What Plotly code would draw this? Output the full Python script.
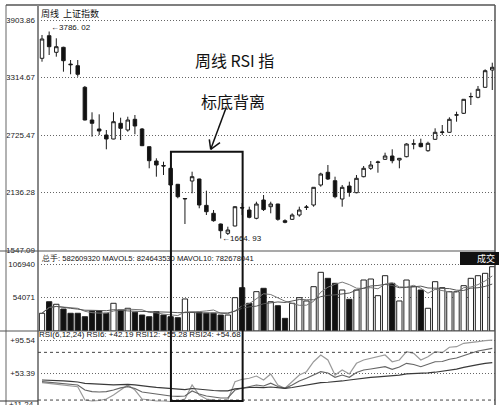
import plotly.graph_objects as go
import pandas as pd

weeks = list(range(64))
opens = [3511.4, 3743.0, 3572.9, 3624.1, 3452.0, 3435.6, 3214.2, 2879.2, 2787.0, 2725.5,
         2684.5, 2845.3, 2776.7, 2886.3, 2787.0, 2605.6, 2459.0, 2412.9, 2384.2, 2220.3,
         2069.6, 2254.1, 2274.6, 2004.6, 1923.1, 1813.5, 1718.1, 1793.0, 1982.6, 1956.9,
         1871.9, 2059.4, 1990.7, 2018.4, 1847.3, 1861.6, 1905.7, 1982.6, 2008.2, 2213.1,
         2343.2, 2257.2, 2069.6, 2202.9, 2134.2, 2298.2, 2384.2, 2443.7, 2476.4, 2510.3,
         2469.3, 2503.1, 2631.2, 2640.4, 2564.5, 2681.4, 2751.1, 2753.1, 2928.3, 2947.8,
         3116.9, 3111.8, 3214.2, 3391.5]
highs = [3750.2, 3786.02, 3716.3, 3630.0, 3494.0, 3494.0, 3227.6, 2958.0, 2937.6, 2776.7,
         2958.0, 2902.7, 2912.9, 2930.4, 2797.2, 2608.0, 2486.7, 2451.9, 2388.0, 2224.0,
         2078.0, 2349.4, 2278.0, 2154.7, 1956.9, 1818.0, 1785.8, 1994.0, 2028.6, 1990.7,
         2041.9, 2110.6, 2041.9, 2020.0, 1861.6, 1923.1, 1990.7, 2008.2, 2192.0, 2339.1,
         2418.0, 2298.2, 2213.1, 2246.9, 2315.6, 2407.8, 2459.0, 2462.1, 2544.1, 2578.9,
         2490.0, 2640.4, 2681.4, 2687.5, 2656.8, 2794.1, 2827.9, 2906.8, 2964.2, 3094.0,
         3158.9, 3227.6, 3398.7, 3466.3]
lows = [3476.6, 3545.2, 3527.8, 3374.1, 3347.5, 3322.8, 2875.0, 2708.0, 2725.5, 2578.9,
        2682.0, 2674.2, 2759.3, 2732.6, 2612.0, 2384.2, 2298.2, 2315.6, 2208.0, 2076.9,
        1813.5, 2128.1, 1974.4, 1905.7, 1837.1, 1664.93, 1700.8, 1790.0, 1905.7, 1871.9,
        1861.6, 1946.7, 1923.1, 1847.3, 1820.7, 1854.5, 1888.3, 1956.9, 1990.7, 2195.7,
        2264.3, 2076.9, 1990.7, 2093.2, 2128.1, 2291.9, 2366.8, 2339.1, 2469.3, 2435.4,
        2384.2, 2496.9, 2578.9, 2599.4, 2554.3, 2674.2, 2725.5, 2750.0, 2861.7, 2940.6,
        3032.9, 3101.5, 3211.0, 3186.6]
closes = [3709.2, 3630.3, 3630.3, 3486.8, 3446.0, 3347.5, 2879.2, 2845.3, 2766.4, 2684.5,
          2861.7, 2794.1, 2879.2, 2817.7, 2615.8, 2462.1, 2418.0, 2407.8, 2213.1, 2093.2,
          2074.8, 2298.2, 2008.2, 1939.5, 1847.3, 1744.8, 1752.0, 1990.7, 1977.4, 1882.1,
          2018.4, 1961.5, 2018.4, 1861.6, 1830.9, 1905.7, 1956.9, 1987.7, 2189.5, 2325.8,
          2274.6, 2093.2, 2189.5, 2138.3, 2281.7, 2384.2, 2418.0, 2448.8, 2510.3, 2462.1,
          2486.7, 2633.2, 2635.3, 2605.6, 2640.4, 2753.1, 2756.2, 2886.3, 2932.4, 3091.3,
          3119.9, 3193.8, 3384.3, 3419.2]
volumes = [28400, 46900, 42800, 35200, 28400, 28400, 22900, 32000, 32000, 28400,
           44400, 33600, 36400, 30000, 25600, 22900, 30900, 25600, 22900, 21300,
           51300, 30000, 30000, 28400, 28400, 25600, 25600, 53400, 69400, 44400,
           63000, 68400, 46900, 40500, 20300, 44400, 53400, 48100, 71000, 94000,
           84400, 76400, 65700, 50800, 65700, 81700, 83300, 56600, 88600, 76400,
           48100, 81700, 71000, 65700, 36400, 79000, 69400, 63000, 63000, 72600,
           84400, 88600, 92400, 103000]
rsi6 = [41.8, 40.8, 40.2, 38.9, 37.7, 36.8, 20.1, 18.8, 19.4, 21.3,
        26.3, 32.6, 38.9, 32.6, 21.3, 20.1, 18.8, 18.8, 18.2, 18.8,
        21.3, 38.9, 26.3, 21.3, 20.1, 18.8, 20.1, 43.1, 46.1, 47.4,
        50.2, 45.2, 52.8, 38.9, 34.8, 43.1, 51.5, 55.7, 68.2, 76.7,
        70.4, 51.5, 57.8, 52.8, 66.2, 70.4, 72.5, 74.5, 76.7, 68.2,
        70.4, 80.8, 78.8, 70.4, 74.5, 80.8, 79.6, 86.4, 87.1, 91.4,
        92.1, 93.4, 94.7, 95.5]
rsi12 = [43.1, 42.1, 41.4, 40.2, 39.6, 38.9, 32.6, 30.7, 30.1, 30.7,
         32.6, 35.2, 36.8, 34.5, 30.1, 28.9, 27.0, 25.7, 25.1, 24.5,
         25.1, 31.4, 27.6, 25.1, 23.8, 22.6, 22.6, 32.6, 34.8, 36.4,
         38.9, 37.7, 41.1, 37.0, 34.8, 38.9, 43.9, 47.4, 51.5, 55.7,
         54.0, 48.6, 51.5, 48.6, 54.7, 57.8, 59.1, 60.3, 61.9, 58.7,
         61.6, 66.2, 64.7, 61.9, 65.3, 68.2, 68.5, 71.3, 72.9, 75.4,
         78.8, 81.7, 83.8, 85.1]
rsi24 = [45.2, 45.0, 44.6, 44.0, 43.4, 42.7, 41.0, 40.5, 40.2, 39.8,
         39.2, 39.5, 39.8, 39.0, 37.6, 36.8, 35.9, 35.0, 34.2, 33.5,
         33.2, 34.5, 33.4, 32.6, 32.0, 31.5, 31.6, 34.0, 35.2, 35.8,
         36.0, 35.6, 36.4, 35.2, 34.8, 35.8, 37.4, 39.0, 40.6, 42.0,
         42.4, 42.8, 44.0, 45.2, 46.4, 48.0, 48.6, 49.2, 50.0, 50.2,
         51.4, 53.0, 53.2, 53.4, 54.2, 55.0, 56.0, 57.6, 58.8, 61.0,
         62.4, 64.6, 66.2, 67.0]
price_ticks = [1547.09, 2136.28, 2725.47, 3314.67, 3903.86]
vol_ticks = [54071, 106940]
rsi_ticks = [53.39, 95.54]
rsi_bottom_tick = 11.24
rsi_levels = [20, 80]

W, H = 500, 405
ML, MR = 38, 5
PW = W - ML - MR


def px_x(p):
    return (p - ML) / PW


def px_y(p):
    return 1 - p / H


vol_s = pd.Series(volumes)
mavol5 = vol_s.rolling(5, min_periods=1).mean().tolist()
mavol10 = vol_s.rolling(10, min_periods=1).mean().tolist()
vol_colors = ['white' if c > o else '#111111' for o, c in zip(opens, closes)]

FONT = 'Liberation Sans, Arial, sans-serif'
CJK = 'Noto Sans CJK SC, sans-serif'

fig = go.Figure()
fig.add_trace(go.Candlestick(
    x=weeks, open=opens, high=highs, low=lows, close=closes,
    xaxis='x', yaxis='y', showlegend=False, hoverinfo='skip',
    increasing=dict(line=dict(color='#1a1a1a', width=1), fillcolor='white'),
    decreasing=dict(line=dict(color='#1a1a1a', width=1), fillcolor='#111111'),
))
fig.add_trace(go.Bar(
    x=weeks, y=volumes, xaxis='x2', yaxis='y2', width=0.74, showlegend=False,
    marker=dict(color=vol_colors, line=dict(color='#222222', width=1)),
))
fig.add_trace(go.Scatter(x=weeks, y=mavol5, xaxis='x2', yaxis='y2', mode='lines',
                         line=dict(color='#777777', width=1), showlegend=False))
fig.add_trace(go.Scatter(x=weeks, y=mavol10, xaxis='x2', yaxis='y2', mode='lines',
                         line=dict(color='#555555', width=1), showlegend=False))
fig.add_trace(go.Scatter(x=weeks, y=rsi6, xaxis='x3', yaxis='y3', mode='lines',
                         line=dict(color='#9a9a9a', width=1.2), showlegend=False))
fig.add_trace(go.Scatter(x=weeks, y=rsi12, xaxis='x3', yaxis='y3', mode='lines',
                         line=dict(color='#666666', width=1.2), showlegend=False))
fig.add_trace(go.Scatter(x=weeks, y=rsi24, xaxis='x3', yaxis='y3', mode='lines',
                         line=dict(color='#3a3a3a', width=1.2), showlegend=False))

xcommon = dict(range=[-0.56, 63.38], showgrid=False, zeroline=False, automargin=False,
               showticklabels=False, ticks='', showline=False, fixedrange=True)
ycommon = dict(showgrid=True, gridcolor='#666666', griddash='1px,2px', gridwidth=1,
               zeroline=False, showline=False, ticks='', automargin=False,
               ticklabelstandoff=2, fixedrange=True,
               tickfont=dict(family=FONT, size=8, color='#222222'))

fig.update_layout(
    width=W, height=H,
    margin=dict(l=ML, r=MR, t=0, b=0, pad=0, autoexpand=False),
    paper_bgcolor='white', plot_bgcolor='white',
    bargap=0, showlegend=False,
    xaxis=dict(domain=[0, 1], anchor='y', rangeslider=dict(visible=False), **xcommon),
    xaxis2=dict(domain=[0, 1], anchor='y2', matches='x', **xcommon),
    xaxis3=dict(domain=[0, 1], anchor='y3', matches='x', **xcommon),
    yaxis=dict(domain=[px_y(251), px_y(6)], range=[1536.8, 4047.3],
               tickvals=price_ticks, ticktext=['%.2f' % v for v in price_ticks],
               anchor='x', **ycommon),
    yaxis2=dict(domain=[px_y(331), px_y(252)], range=[0, 126560],
                tickvals=vol_ticks, ticktext=[str(v) for v in vol_ticks],
                anchor='x2', **ycommon),
    yaxis3=dict(domain=[0, px_y(332)], range=[13.77, 105.6],
                tickvals=rsi_ticks, ticktext=['+%.2f' % v for v in rsi_ticks],
                anchor='x3', **ycommon),
)

shapes = []
line_col = '#555555'
# outer frame
shapes.append(dict(type='line', xref='paper', yref='paper', x0=px_x(6), x1=px_x(6),
                   y0=px_y(5), y1=px_y(405), line=dict(color='#999999', width=1.5)))
shapes.append(dict(type='line', xref='paper', yref='paper', x0=px_x(6), x1=px_x(495),
                   y0=px_y(5), y1=px_y(5), line=dict(color=line_col, width=1.5)))
shapes.append(dict(type='line', xref='paper', yref='paper', x0=px_x(495), x1=px_x(495),
                   y0=px_y(5), y1=px_y(405), line=dict(color=line_col, width=1.5)))
shapes.append(dict(type='line', xref='paper', yref='paper', x0=0, x1=0,
                   y0=px_y(5), y1=px_y(405), line=dict(color='#888888', width=2)))
for yy in (251, 331):
    shapes.append(dict(type='line', xref='paper', yref='paper', x0=px_x(0), x1=px_x(495),
                       y0=px_y(yy), y1=px_y(yy), line=dict(color=line_col, width=1.2)))
shapes.append(dict(type='line', xref='paper', yref='paper', x0=px_x(0), x1=px_x(38),
                   y0=px_y(401), y1=px_y(401), line=dict(color='#333333', width=1)))
# RSI 20/80 dashed levels
for lv in rsi_levels:
    shapes.append(dict(type='line', xref='paper', yref='y3', x0=0, x1=1, y0=lv, y1=lv,
                       line=dict(color='#444444', width=1, dash='3px,3px')))
# highlight box
shapes.append(dict(type='rect', xref='x', yref='paper', x0=18.04, x1=28.07,
                   y0=px_y(401), y1=px_y(151.7), line=dict(color='#111111', width=2)))
# arrow
tip = (210.7, 149.3)
for (ax_, ay_) in [(226, 108), (209.3, 139.3), (220, 142.7)]:
    shapes.append(dict(type='line', xref='paper', yref='paper',
                       x0=px_x(ax_), y0=px_y(ay_), x1=px_x(tip[0]), y1=px_y(tip[1]),
                       line=dict(color='#111111', width=1.5)))
# black legend box
shapes.append(dict(type='rect', xref='paper', yref='paper', x0=px_x(460), x1=px_x(499),
                   y0=px_y(265), y1=px_y(252), fillcolor='#111111', line=dict(width=0)))
fig.update_layout(shapes=shapes)

ann = []
ann.append(dict(xref='paper', yref='paper', x=px_x(39), y=px_y(13), text='周线  上证指数',
                showarrow=False, xanchor='left', yanchor='middle',
                font=dict(family=CJK, size=9, color='#111111')))
ann.append(dict(xref='paper', yref='paper', x=px_x(39), y=px_y(258),
                text='总手: 582609320 MAVOL5: 824643530 MAVOL10: 782678041',
                showarrow=False, xanchor='left', yanchor='middle',
                font=dict(family=FONT, size=7.6, color='#111111')))
ann.append(dict(xref='paper', yref='paper', x=px_x(37), y=px_y(334),
                text='RSI(6,12,24) RSI6: +42.19 RSI12: +55.28 RSI24: +54.68',
                showarrow=False, xanchor='left', yanchor='middle',
                font=dict(family=FONT, size=8, color='#111111')))
ann.append(dict(xref='paper', yref='paper', x=px_x(36), y=px_y(404),
                text='+%.2f' % rsi_bottom_tick, showarrow=False, xanchor='right',
                yanchor='middle', font=dict(family=FONT, size=8, color='#222222')))
ann.append(dict(xref='paper', yref='paper', x=px_x(497), y=px_y(258.5), text='成交',
                showarrow=False, xanchor='right', yanchor='middle',
                font=dict(family=CJK, size=9, color='white')))
ann.append(dict(xref='paper', yref='paper', x=px_x(234), y=px_y(60), text='周线 RSI 指',
                showarrow=False, xanchor='center', yanchor='middle',
                font=dict(family=CJK, size=16, color='#111111')))
ann.append(dict(xref='paper', yref='paper', x=px_x(233), y=px_y(101), text='标底背离',
                showarrow=False, xanchor='center', yanchor='middle',
                font=dict(family=CJK, size=16, color='#111111')))
ann.append(dict(xref='x', yref='y', x=weeks[1], y=highs[1], text='←3786. 02',
                showarrow=False, xanchor='left', yanchor='bottom', yshift=-2,
                font=dict(family=FONT, size=8, color='#111111')))
ann.append(dict(xref='x', yref='y', x=weeks[25], y=lows[25], text='←1664. 93',
                showarrow=False, xanchor='left', yanchor='middle', xshift=-1,
                font=dict(family=FONT, size=8, color='#111111')))
fig.update_layout(annotations=ann)

fig.write_html('out.html', config={'displayModeBar': False, 'staticPlot': True},
               post_script="document.body.style.margin='0px';document.body.style.padding='0px';")
